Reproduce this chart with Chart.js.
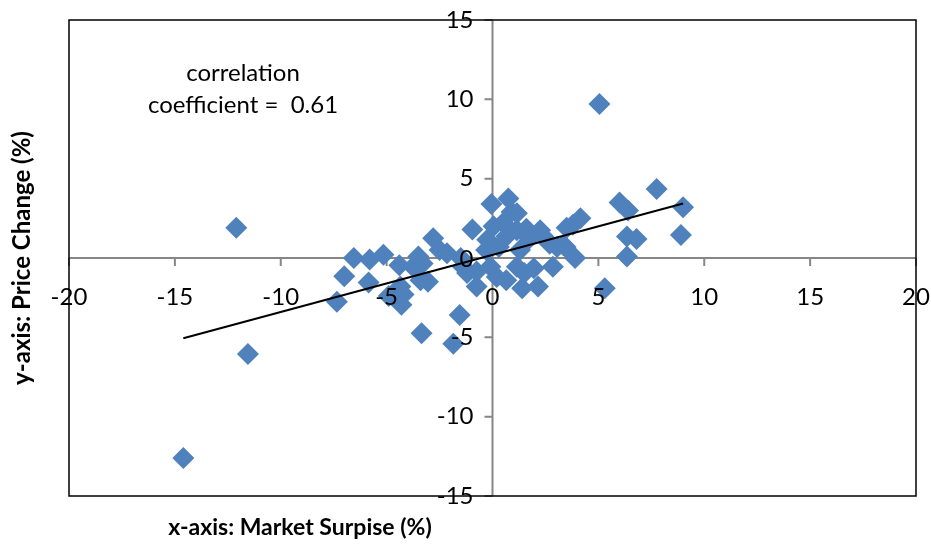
<!DOCTYPE html>
<html>
<head>
<meta charset="utf-8">
<script src="https://cdn.jsdelivr.net/npm/chart.js@4.4.1/dist/chart.umd.min.js"></script>
<style>
  html, body { margin: 0; padding: 0; background: #fff; }
  #wrap { width: 931px; height: 546px; }
</style>
</head>
<body>
<div id="wrap"><canvas id="grafico"></canvas></div>
<script>
// Datos: sorpresa de mercado (%) vs cambio de precio (%)
const surprise = [-14.6, -12.1, -11.55, -7.35, -7.0, -6.55, -5.85, -5.8, -5.15, -4.9,
  -4.4, -4.35, -4.2, -4.3, -3.75, -3.5, -3.4, -3.3, -3.35, -3.05,
  -2.8, -2.5, -2.15, -1.55, -1.85, -1.5, -1.4, -1.2, -0.95, -0.75,
  -0.75, -0.3, -0.25, -0.05, -0.1, 0.05, 0.2, 0.3, 0.5, 0.65,
  0.65, 0.75, 0.9, 1.15, 1.15, 1.3, 1.4, 1.5, 1.6, 1.75,
  1.95, 2.15, 2.25, 2.4, 2.7, 2.85, 3.05, 3.35, 3.45, 3.5,
  3.8, 3.9, 4.15, 5.05, 5.3, 6.0, 6.4, 6.35, 6.8, 6.35,
  7.75, 9.0, 8.9, 1.15];
const priceChange = [-12.6, 1.9, -6.05, -2.75, -1.15, 0.0, -1.55, -0.1, 0.2, -2.4,
  -0.45, -1.8, -2.3, -2.95, -0.55, 0.1, -1.4, -0.35, -4.75, -1.5,
  1.25, 0.5, 0.3, -3.6, -5.4, 0.0, -0.55, -0.95, 1.8, -0.85,
  -1.8, 0.5, 1.15, 3.4, -0.55, 2.0, -1.2, 0.7, 2.2, 1.35,
  -1.4, 3.75, 2.9, 1.75, -0.55, 0.5, -1.9, -0.95, 1.85, 1.25,
  -0.65, -1.8, 1.75, 1.35, 0.9, -0.55, 0.7, 0.8, 0.7, 1.9,
  2.1, 0.0, 2.5, 9.7, -1.9, 3.5, 3.0, 1.35, 1.2, 0.1,
  4.35, 3.2, 1.45, 2.82];

// linea de tendencia
const trendSlope = 0.36;
const trendIntercept = 0.2;
const trendRange = [-14.6, 9.0];

const xTicks = [-20, -15, -10, -5, 0, 5, 10, 15, 20];
const yTicks = [-15, -10, -5, 5, 10, 15];

const textFont = 'Lato, "Open Sans", sans-serif';

const puntos = surprise.map((x, i) => ({ x: x, y: priceChange[i] }));
const tendencia = trendRange.map(x => ({ x: x, y: trendIntercept + trendSlope * x }));

// ejes en el centro, marco y textos
const ejesPlugin = {
  id: 'ejes',
  beforeDatasetsDraw(chart) {
    const ctx = chart.ctx;
    const xs = chart.scales.x, ys = chart.scales.y;
    const x0 = xs.getPixelForValue(0), y0 = ys.getPixelForValue(0);
    const a = chart.chartArea;
    ctx.save();
    ctx.strokeStyle = '#868686';
    ctx.lineWidth = 2;
    ctx.beginPath();
    ctx.moveTo(a.left, y0); ctx.lineTo(a.right, y0);
    ctx.moveTo(x0, a.top); ctx.lineTo(x0, a.bottom);
    xTicks.forEach(v => {
      const px = xs.getPixelForValue(v);
      ctx.moveTo(px, y0); ctx.lineTo(px, y0 + 8);
    });
    [-15, -10, -5, 0, 5, 10, 15].forEach(v => {
      const py = ys.getPixelForValue(v);
      ctx.moveTo(x0 - 8, py); ctx.lineTo(x0, py);
    });
    ctx.stroke();
    ctx.restore();
  },
  afterDatasetsDraw(chart) {
    const ctx = chart.ctx;
    const xs = chart.scales.x, ys = chart.scales.y;
    const x0 = xs.getPixelForValue(0), y0 = ys.getPixelForValue(0);
    const a = chart.chartArea;
    ctx.save();
    // marco
    ctx.strokeStyle = '#000';
    ctx.lineWidth = 1.5;
    ctx.strokeRect(a.left, a.top, a.right - a.left, a.bottom - a.top);

    ctx.fillStyle = '#000';
    ctx.font = '24px ' + textFont;
    ctx.textAlign = 'center';
    ctx.textBaseline = 'middle';
    xTicks.forEach(v => {
      ctx.fillText(String(v), xs.getPixelForValue(v), y0 + 39);
    });
    ctx.textAlign = 'right';
    yTicks.forEach(v => {
      ctx.fillText(String(v), x0 - 19, ys.getPixelForValue(v));
    });
    ctx.fillText('0', x0 - 19, y0 + 1);

    // coeficiente
    ctx.textAlign = 'center';
    ctx.font = '24px ' + textFont;
    ctx.fillText('correlation', 243, 73);
    ctx.fillText('coefficient =  0.61', 243, 105);

    // titulos de ejes
    ctx.font = 'bold 23px ' + textFont;
    ctx.fillText('x-axis: Market Surpise (%)', 300, 528);
    ctx.font = 'bold 24px ' + textFont;
    ctx.translate(22, 258);
    ctx.rotate(-Math.PI / 2);
    ctx.fillText('y-axis: Price Change (%)', 0, 0);
    ctx.restore();
  }
};

const ctx = document.getElementById('grafico').getContext('2d');
new Chart(ctx, {
  type: 'scatter',
  data: {
    datasets: [{
      label: 'Datos',
      data: puntos,
      pointStyle: 'rectRot',
      pointRadius: 11,
      pointBackgroundColor: '#4F81BD',
      pointBorderColor: '#4F81BD',
      pointBorderWidth: 0,
      order: 2
    }, {
      label: 'Tendencia',
      type: 'line',
      data: tendencia,
      borderColor: '#000',
      borderWidth: 2,
      pointRadius: 0,
      fill: false,
      order: 1
    }]
  },
  options: {
    responsive: true,
    maintainAspectRatio: false,
    animation: false,
    layout: { padding: { left: 69, top: 20, right: 15, bottom: 50 } },
    plugins: { legend: { display: false }, tooltip: { enabled: false } },
    scales: {
      x: { type: 'linear', min: -20, max: 20, display: false },
      y: { type: 'linear', min: -15, max: 15, display: false }
    }
  },
  plugins: [ejesPlugin]
});
</script>
</body>
</html>
